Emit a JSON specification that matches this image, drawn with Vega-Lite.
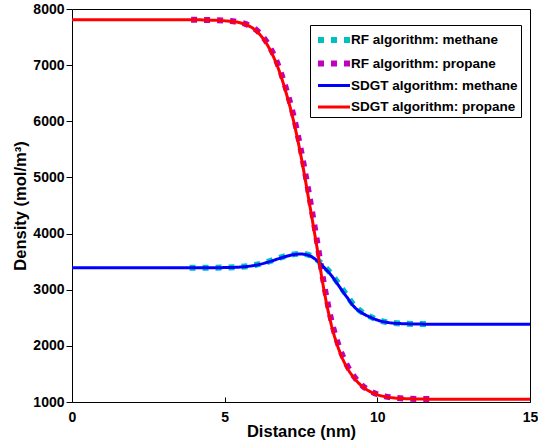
{
  "$schema": "https://vega.github.io/schema/vega-lite/v6.json",
  "width": 458,
  "height": 393,
  "autosize": {"type": "none"},
  "padding": {"left": 72, "top": 9, "right": 8, "bottom": 45},
  "config": {
    "font": "Liberation Sans",
    "view": {"stroke": "black", "strokeWidth": 1},
    "axis": {"labelFont": "Liberation Sans", "labelFontWeight": "bold", "labelFontSize": 14, "labelColor": "black", "titleFont": "Liberation Sans", "titleFontWeight": "bold", "titleFontSize": 16.5, "titleColor": "black", "grid": false, "domain": false, "tickColor": "black"},
    "legend": {"labelFont": "Liberation Sans", "labelFontWeight": "bold", "labelFontSize": 13.5, "labelColor": "black", "labelLimit": 400}
  },
  "datasets": {
    "curves": [
      {"x": 3.85, "y": 3390, "series": "RF algorithm: methane"},
      {"x": 4.5, "y": 3392, "series": "RF algorithm: methane"},
      {"x": 5, "y": 3395, "series": "RF algorithm: methane"},
      {"x": 5.5, "y": 3405, "series": "RF algorithm: methane"},
      {"x": 6, "y": 3440, "series": "RF algorithm: methane"},
      {"x": 6.5, "y": 3512, "series": "RF algorithm: methane"},
      {"x": 6.75, "y": 3558, "series": "RF algorithm: methane"},
      {"x": 7, "y": 3600, "series": "RF algorithm: methane"},
      {"x": 7.25, "y": 3630, "series": "RF algorithm: methane"},
      {"x": 7.5, "y": 3640, "series": "RF algorithm: methane"},
      {"x": 7.75, "y": 3620, "series": "RF algorithm: methane"},
      {"x": 8, "y": 3545, "series": "RF algorithm: methane"},
      {"x": 8.25, "y": 3420, "series": "RF algorithm: methane"},
      {"x": 8.5, "y": 3275, "series": "RF algorithm: methane"},
      {"x": 8.75, "y": 3090, "series": "RF algorithm: methane"},
      {"x": 9, "y": 2900, "series": "RF algorithm: methane"},
      {"x": 9.25, "y": 2715, "series": "RF algorithm: methane"},
      {"x": 9.5, "y": 2600, "series": "RF algorithm: methane"},
      {"x": 9.75, "y": 2525, "series": "RF algorithm: methane"},
      {"x": 10, "y": 2465, "series": "RF algorithm: methane"},
      {"x": 10.25, "y": 2428, "series": "RF algorithm: methane"},
      {"x": 10.5, "y": 2408, "series": "RF algorithm: methane"},
      {"x": 11, "y": 2394, "series": "RF algorithm: methane"},
      {"x": 11.5, "y": 2388, "series": "RF algorithm: methane"},
      {"x": 11.8, "y": 2387, "series": "RF algorithm: methane"},

      {"x": 3.9, "y": 7808, "series": "RF algorithm: propane"},
      {"x": 4.5, "y": 7802, "series": "RF algorithm: propane"},
      {"x": 5, "y": 7792, "series": "RF algorithm: propane"},
      {"x": 5.5, "y": 7760, "series": "RF algorithm: propane"},
      {"x": 5.75, "y": 7718, "series": "RF algorithm: propane"},
      {"x": 6, "y": 7640, "series": "RF algorithm: propane"},
      {"x": 6.25, "y": 7505, "series": "RF algorithm: propane"},
      {"x": 6.5, "y": 7300, "series": "RF algorithm: propane"},
      {"x": 6.75, "y": 7000, "series": "RF algorithm: propane"},
      {"x": 7, "y": 6600, "series": "RF algorithm: propane"},
      {"x": 7.25, "y": 6110, "series": "RF algorithm: propane"},
      {"x": 7.5, "y": 5480, "series": "RF algorithm: propane"},
      {"x": 7.75, "y": 4740, "series": "RF algorithm: propane"},
      {"x": 8, "y": 3950, "series": "RF algorithm: propane"},
      {"x": 8.25, "y": 3110, "series": "RF algorithm: propane"},
      {"x": 8.5, "y": 2440, "series": "RF algorithm: propane"},
      {"x": 8.75, "y": 1980, "series": "RF algorithm: propane"},
      {"x": 9, "y": 1660, "series": "RF algorithm: propane"},
      {"x": 9.25, "y": 1445, "series": "RF algorithm: propane"},
      {"x": 9.5, "y": 1295, "series": "RF algorithm: propane"},
      {"x": 9.75, "y": 1200, "series": "RF algorithm: propane"},
      {"x": 10, "y": 1138, "series": "RF algorithm: propane"},
      {"x": 10.25, "y": 1100, "series": "RF algorithm: propane"},
      {"x": 10.5, "y": 1078, "series": "RF algorithm: propane"},
      {"x": 11, "y": 1060, "series": "RF algorithm: propane"},
      {"x": 11.5, "y": 1053, "series": "RF algorithm: propane"},
      {"x": 11.85, "y": 1052, "series": "RF algorithm: propane"},

      {"x": 0, "y": 3390, "series": "SDGT algorithm: methane"},
      {"x": 2, "y": 3390, "series": "SDGT algorithm: methane"},
      {"x": 4, "y": 3390, "series": "SDGT algorithm: methane"},
      {"x": 5, "y": 3394, "series": "SDGT algorithm: methane"},
      {"x": 5.5, "y": 3403, "series": "SDGT algorithm: methane"},
      {"x": 6, "y": 3435, "series": "SDGT algorithm: methane"},
      {"x": 6.5, "y": 3505, "series": "SDGT algorithm: methane"},
      {"x": 6.75, "y": 3550, "series": "SDGT algorithm: methane"},
      {"x": 7, "y": 3592, "series": "SDGT algorithm: methane"},
      {"x": 7.25, "y": 3624, "series": "SDGT algorithm: methane"},
      {"x": 7.5, "y": 3636, "series": "SDGT algorithm: methane"},
      {"x": 7.75, "y": 3612, "series": "SDGT algorithm: methane"},
      {"x": 8, "y": 3530, "series": "SDGT algorithm: methane"},
      {"x": 8.25, "y": 3400, "series": "SDGT algorithm: methane"},
      {"x": 8.5, "y": 3250, "series": "SDGT algorithm: methane"},
      {"x": 8.75, "y": 3060, "series": "SDGT algorithm: methane"},
      {"x": 9, "y": 2870, "series": "SDGT algorithm: methane"},
      {"x": 9.25, "y": 2690, "series": "SDGT algorithm: methane"},
      {"x": 9.5, "y": 2585, "series": "SDGT algorithm: methane"},
      {"x": 9.75, "y": 2515, "series": "SDGT algorithm: methane"},
      {"x": 10, "y": 2460, "series": "SDGT algorithm: methane"},
      {"x": 10.25, "y": 2425, "series": "SDGT algorithm: methane"},
      {"x": 10.5, "y": 2405, "series": "SDGT algorithm: methane"},
      {"x": 11, "y": 2392, "series": "SDGT algorithm: methane"},
      {"x": 11.5, "y": 2387, "series": "SDGT algorithm: methane"},
      {"x": 12, "y": 2385, "series": "SDGT algorithm: methane"},
      {"x": 15, "y": 2385, "series": "SDGT algorithm: methane"},

      {"x": 0, "y": 7810, "series": "SDGT algorithm: propane"},
      {"x": 2, "y": 7810, "series": "SDGT algorithm: propane"},
      {"x": 4, "y": 7808, "series": "SDGT algorithm: propane"},
      {"x": 4.5, "y": 7802, "series": "SDGT algorithm: propane"},
      {"x": 5, "y": 7790, "series": "SDGT algorithm: propane"},
      {"x": 5.5, "y": 7755, "series": "SDGT algorithm: propane"},
      {"x": 5.75, "y": 7710, "series": "SDGT algorithm: propane"},
      {"x": 6, "y": 7625, "series": "SDGT algorithm: propane"},
      {"x": 6.25, "y": 7480, "series": "SDGT algorithm: propane"},
      {"x": 6.5, "y": 7260, "series": "SDGT algorithm: propane"},
      {"x": 6.75, "y": 6950, "series": "SDGT algorithm: propane"},
      {"x": 7, "y": 6530, "series": "SDGT algorithm: propane"},
      {"x": 7.25, "y": 6020, "series": "SDGT algorithm: propane"},
      {"x": 7.5, "y": 5380, "series": "SDGT algorithm: propane"},
      {"x": 7.75, "y": 4620, "series": "SDGT algorithm: propane"},
      {"x": 8, "y": 3830, "series": "SDGT algorithm: propane"},
      {"x": 8.25, "y": 3000, "series": "SDGT algorithm: propane"},
      {"x": 8.5, "y": 2360, "series": "SDGT algorithm: propane"},
      {"x": 8.75, "y": 1920, "series": "SDGT algorithm: propane"},
      {"x": 9, "y": 1620, "series": "SDGT algorithm: propane"},
      {"x": 9.25, "y": 1420, "series": "SDGT algorithm: propane"},
      {"x": 9.5, "y": 1280, "series": "SDGT algorithm: propane"},
      {"x": 9.75, "y": 1190, "series": "SDGT algorithm: propane"},
      {"x": 10, "y": 1130, "series": "SDGT algorithm: propane"},
      {"x": 10.25, "y": 1095, "series": "SDGT algorithm: propane"},
      {"x": 10.5, "y": 1075, "series": "SDGT algorithm: propane"},
      {"x": 11, "y": 1058, "series": "SDGT algorithm: propane"},
      {"x": 11.5, "y": 1052, "series": "SDGT algorithm: propane"},
      {"x": 12, "y": 1050, "series": "SDGT algorithm: propane"},
      {"x": 15, "y": 1050, "series": "SDGT algorithm: propane"}
    ]
  },
  "data": {"name": "curves"},
  "mark": {"type": "line", "interpolate": "monotone", "clip": true},
  "encoding": {
    "x": {"field": "x", "type": "quantitative", "scale": {"domain": [0, 15], "nice": false},
      "axis": {"title": "Distance (nm)", "values": [0, 5, 10, 15], "format": "d", "tickSize": -5, "labelPadding": 13, "titlePadding": -1, "labelFlush": false}},
    "y": {"field": "y", "type": "quantitative", "scale": {"domain": [1000, 8000], "nice": false, "zero": false},
      "axis": {"title": "Density (mol/m³)", "values": [1000, 2000, 3000, 4000, 5000, 6000, 7000, 8000], "format": "d", "tickSize": 6, "labelPadding": 2, "titlePadding": 4, "labelFlush": false}},
    "color": {"field": "series", "type": "nominal",
      "scale": {"domain": ["RF algorithm: methane", "RF algorithm: propane", "SDGT algorithm: methane", "SDGT algorithm: propane"], "range": ["#00BFBF", "#BF00BF", "#0000FF", "#FF0000"]},
      "legend": {"title": null, "orient": "none", "legendX": 238, "legendY": 16, "strokeColor": "black", "fillColor": "white", "padding": 3, "symbolType": "M-1.85,0H1.85", "symbolSize": 300, "symbolOffset": 9, "rowPadding": 4.5, "labelOffset": 5, "labelLimit": 400,
        "encode": {"symbols": {"update": {"strokeWidth": {"signal": "datum.value == 'RF algorithm: methane' || datum.value == 'RF algorithm: propane' ? 6 : 3"}, "strokeJoin": {"value": "bevel"}, "strokeCap": {"value": "butt"}}}}}},
    "strokeDash": {"field": "series", "type": "nominal",
      "scale": {"domain": ["RF algorithm: methane", "RF algorithm: propane", "SDGT algorithm: methane", "SDGT algorithm: propane"], "range": [[6, 7], [6, 7], [1, 0], [1, 0]]},
      "legend": {"title": null, "orient": "none", "legendX": 238, "legendY": 16}},
    "strokeWidth": {"field": "series", "type": "nominal",
      "scale": {"type": "ordinal", "domain": ["RF algorithm: methane", "RF algorithm: propane", "SDGT algorithm: methane", "SDGT algorithm: propane"], "range": [6, 6, 3, 3]},
      "legend": null}
  }
}
